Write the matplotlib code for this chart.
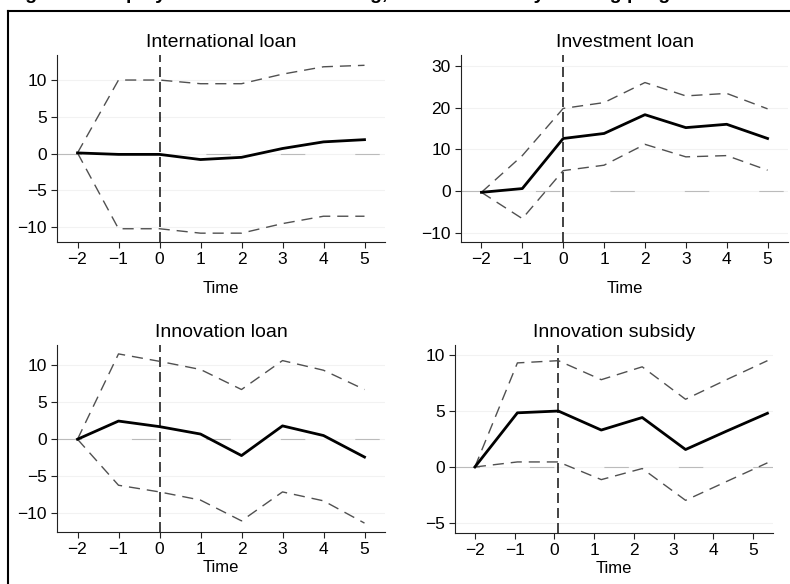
import numpy as np
import matplotlib.pyplot as plt
from matplotlib.lines import Line2D

plt.rcParams['font.family'] = ['Liberation Sans Narrow', 'Liberation Sans', 'DejaVu Sans']

# data
titles = ['International loan', 'Investment loan', 'Innovation loan', 'Innovation subsidy']
x_int = [-2, -1, 0, 1, 2, 3, 4, 5]
x_sub = [-2, -0.93, 0.1, 1.18, 2.21, 3.3, 4.33, 5.36]

intl_est = [0.1, -0.1, -0.1, -0.8, -0.5, 0.7, 1.6, 1.9]
intl_hi = [0.1, 10.0, 10.0, 9.5, 9.5, 10.8, 11.8, 12.0]
intl_lo = [0.1, -10.2, -10.2, -10.8, -10.8, -9.5, -8.5, -8.5]

inv_est = [-0.3, 0.6, 12.6, 13.8, 18.3, 15.2, 16.0, 12.6]
inv_hi = [-0.3, 8.5, 19.8, 21.2, 26.0, 22.8, 23.4, 19.7]
inv_lo = [-0.3, -6.6, 4.9, 6.2, 11.2, 8.2, 8.5, 5.0]

innl_est = [0.0, 2.45, 1.7, 0.7, -2.2, 1.8, 0.5, -2.4]
innl_hi = [0.0, 11.5, 10.5, 9.4, 6.7, 10.6, 9.3, 6.7]
innl_lo = [0.0, -6.2, -7.1, -8.2, -11.0, -7.1, -8.3, -11.3]

subs_est = [0.0, 4.84, 5.0, 3.3, 4.42, 1.56, 3.2, 4.8]
subs_hi = [0.0, 9.3, 9.5, 7.8, 8.95, 6.05, 7.8, 9.5]
subs_lo = [0.0, 0.45, 0.45, -1.13, -0.14, -2.98, -1.3, 0.37]

xs = [x_int, x_int, x_int, x_sub]
ests = [intl_est, inv_est, innl_est, subs_est]
his = [intl_hi, inv_hi, innl_hi, subs_hi]
los = [intl_lo, inv_lo, innl_lo, subs_lo]
vlines = [0, 0, 0, 0.1]
yticks = [[-10, -5, 0, 5, 10], [-10, 0, 10, 20, 30], [-10, -5, 0, 5, 10], [-5, 0, 5, 10]]
ylims = [(-12, 13.4), (-12.2, 32.6), (-12.5, 12.7), (-5.9, 10.9)]

W, H = 790, 584
fig = plt.figure(figsize=(7.9, 5.84), dpi=100)

# axes boxes in pixels: left, right, top, bottom
boxes = [(57, 385, 55, 242), (461, 788, 55, 242), (57, 385, 345, 532), (455, 773, 345, 533)]
lpads = [10, 10, 2, 2]

for i in range(4):
    l, r, t, b = boxes[i]
    ax = fig.add_axes([l / W, 1 - b / H, (r - l) / W, (b - t) / H])
    ax.set_xlim(-2.5, 5.5)
    ax.set_ylim(*ylims[i])
    ax.set_yticks(yticks[i])
    ax.set_xticks(range(-2, 6))
    ax.set_xticklabels(['\u22122', '\u22121', '0', '1', '2', '3', '4', '5'])
    ax.set_yticklabels([str(v).replace('-', '\u2212') for v in yticks[i]])
    for v in yticks[i]:
        ax.axhline(v, color='#f2f2f2', lw=0.8, zorder=0)
    ax.axhline(0, color='#bbbbbb', lw=0.8, ls=(0, (22, 45)), zorder=1)
    ax.axvline(vlines[i], color='#222222', lw=1.2, ls=(0, (6, 3)), zorder=2)
    ax.plot(xs[i], his[i], color='#505050', lw=1.0, ls=(0, (8, 5)), zorder=3)
    ax.plot(xs[i], los[i], color='#505050', lw=1.0, ls=(0, (8, 5)), zorder=3)
    ax.plot(xs[i], ests[i], color='black', lw=2.0, zorder=4)
    ax.set_title(titles[i], fontsize=14, pad=6)
    ax.set_xlabel('Time', fontsize=12, labelpad=lpads[i])
    ax.spines['top'].set_visible(False)
    ax.spines['right'].set_visible(False)
    ax.spines['left'].set_color('#222222')
    ax.spines['bottom'].set_color('#222222')
    ax.tick_params(labelsize=12.5, length=4, color='#222222')

# outer frame: top and left only
fig.add_artist(Line2D([8 / W, 1], [1 - 11 / H, 1 - 11 / H], color='black', lw=1.5))
fig.add_artist(Line2D([8 / W, 8 / W], [0, 1 - 11 / H], color='black', lw=1.5))

# figure caption, cut off at the top of the picture (only descenders show)
fig.text(0.01, 1 + 1 / H, 'Figure 3: Employment effects of funding, differentiated by funding programme',
         fontsize=14, fontweight='bold', va='baseline', ha='left')

fig.savefig('out.png', dpi=100)
